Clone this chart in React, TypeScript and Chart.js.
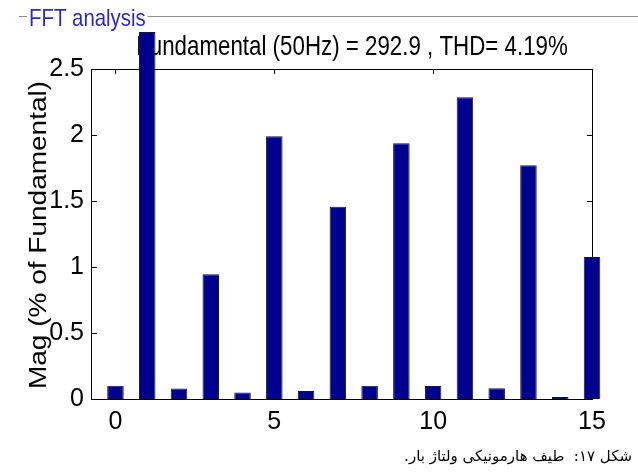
import React, { useEffect, useRef } from "react";
import { Chart, registerables } from "chart.js";

Chart.register(...registerables);

// ---- data ----
const harmonicOrders = [0, 1, 2, 3, 4, 5, 6, 7, 8, 9, 10, 11, 12, 13, 14, 15];
const magnitudes = [0.1, 2.78, 0.08, 0.945, 0.05, 1.99, 0.06, 1.457, 0.1, 1.937, 0.098, 2.286, 0.081, 1.77, 0.015, 1.076];
const xTickValues = [0, 5, 10, 15];
const yTickValues = [0, 0.5, 1, 1.5, 2, 2.5];
const titleText = "Fundamental (50Hz) = 292.9 , THD= 4.19%";
const yAxisLabel = "Mag (% of Fundamental)";
const panelLabel = "FFT analysis";
const captionText = "شکل ۱۷:  طیف هارمونیکی ولتاژ بار.";

const SANS = '"Liberation Sans", Arial, sans-serif';

const decorPlugin = {
  id: "decor",
  beforeDatasetsDraw(chart: any) {
    const { ctx, chartArea, scales } = chart;
    const { left, right, top, bottom } = chartArea;
    const x = scales.x;
    const y = scales.y;
    ctx.save();

    // title (condensed)
    ctx.save();
    ctx.fillStyle = "#000";
    ctx.font = `28px ${SANS}`;
    ctx.textAlign = "center";
    ctx.textBaseline = "alphabetic";
    ctx.translate(352, 55);
    ctx.scale(0.797, 1);
    ctx.fillText(titleText, 0, 0);
    ctx.restore();

    // panel frame line + label
    const labelScale = 0.85;
    ctx.save();
    ctx.font = `24px ${SANS}`;
    const w = ctx.measureText(panelLabel).width * labelScale;
    ctx.restore();
    ctx.fillStyle = "#fff";
    ctx.fillRect(27, 6, w + 4, 24);
    ctx.strokeStyle = "#8c8c8c";
    ctx.lineWidth = 1;
    ctx.beginPath();
    ctx.moveTo(19, 16.5);
    ctx.lineTo(27, 16.5);
    ctx.moveTo(29 + w + 2, 16.5);
    ctx.lineTo(638, 16.5);
    ctx.stroke();
    ctx.save();
    ctx.fillStyle = "#2a2ac8";
    ctx.font = `24px ${SANS}`;
    ctx.textAlign = "left";
    ctx.textBaseline = "alphabetic";
    ctx.translate(29, 26);
    ctx.scale(labelScale, 1);
    ctx.fillText(panelLabel, 0, 0);
    ctx.restore();

    // axes box
    ctx.strokeStyle = "#000";
    ctx.lineWidth = 1;
    ctx.strokeRect(left + 0.5, top + 0.5, right - left, bottom - top);

    // inward tick marks
    ctx.beginPath();
    for (const v of yTickValues) {
      const py = Math.round(y.getPixelForValue(v)) + 0.5;
      ctx.moveTo(left, py);
      ctx.lineTo(left + 6, py);
      ctx.moveTo(right + 1, py);
      ctx.lineTo(right - 5, py);
    }
    for (const v of xTickValues) {
      const px = Math.round(x.getPixelForValue(v)) + 0.5;
      ctx.moveTo(px, top);
      ctx.lineTo(px, top + 5);
      ctx.moveTo(px, bottom + 1);
      ctx.lineTo(px, bottom - 5);
    }
    ctx.stroke();

    // y axis label
    ctx.save();
    ctx.fillStyle = "#000";
    ctx.font = `28px ${SANS}`;
    ctx.textAlign = "center";
    ctx.textBaseline = "middle";
    ctx.translate(39, 235);
    ctx.rotate(-Math.PI / 2);
    ctx.scale(1, 0.86);
    ctx.fillText(yAxisLabel, 0, 0);
    ctx.restore();

    ctx.restore();
  },
  afterDraw(chart: any) {
    const { ctx } = chart;
    ctx.save();
    ctx.fillStyle = "#000";
    ctx.font = '15px "DejaVu Serif", "DejaVu Sans", serif';
    ctx.direction = "rtl";
    ctx.textAlign = "right";
    ctx.textBaseline = "alphabetic";
    ctx.fillText(captionText, 632, 461);
    ctx.restore();
  },
};

export default function App() {
  const canvasRef = useRef<HTMLCanvasElement | null>(null);

  useEffect(() => {
    const canvas = canvasRef.current;
    if (!canvas) return;
    const chart = new Chart(canvas, {
      type: "bar",
      data: {
        labels: harmonicOrders,
        datasets: [
          {
            data: harmonicOrders.map((o, i) => ({ x: o, y: magnitudes[i] })),
            backgroundColor: "#00008F",
            borderColor: "#1a1a1a",
            borderWidth: 1,
            barPercentage: 0.52,
            categoryPercentage: 1,
            clip: false as any,
          },
        ],
      },
      options: {
        responsive: false,
        animation: false,
        devicePixelRatio: 1,
        layout: { padding: { left: 0, top: 69, right: 46, bottom: 0 } },
        plugins: {
          legend: { display: false },
          title: { display: false },
          tooltip: { enabled: false },
        },
        scales: {
          x: {
            type: "linear",
            min: -0.77,
            max: 15,
            offset: false,
            grid: { display: false, drawTicks: false },
            border: { display: false },
            afterBuildTicks: (s: any) => {
              s.ticks = xTickValues.map((v) => ({ value: v }));
            },
            afterFit: (s: any) => {
              s.height = 76;
            },
            ticks: {
              color: "#000",
              padding: 8,
              maxRotation: 0,
              font: { family: SANS, size: 25 },
              callback: (v: any) => String(v),
            },
          },
          y: {
            min: 0,
            max: 2.5,
            grid: { display: false, drawTicks: false },
            border: { display: false },
            afterBuildTicks: (s: any) => {
              s.ticks = yTickValues.map((v) => ({ value: v }));
            },
            afterFit: (s: any) => {
              s.width = 91;
            },
            ticks: {
              color: "#000",
              padding: 7,
              font: { family: SANS, size: 25 },
              callback: (v: any) => String(v),
            },
          },
        },
      },
      plugins: [decorPlugin],
    });
    return () => chart.destroy();
  }, []);

  return (
    <div style={{ position: "fixed", left: 0, top: 0, width: 638, height: 475, background: "#fff" }}>
      <canvas ref={canvasRef} width={638} height={475} />
    </div>
  );
}
